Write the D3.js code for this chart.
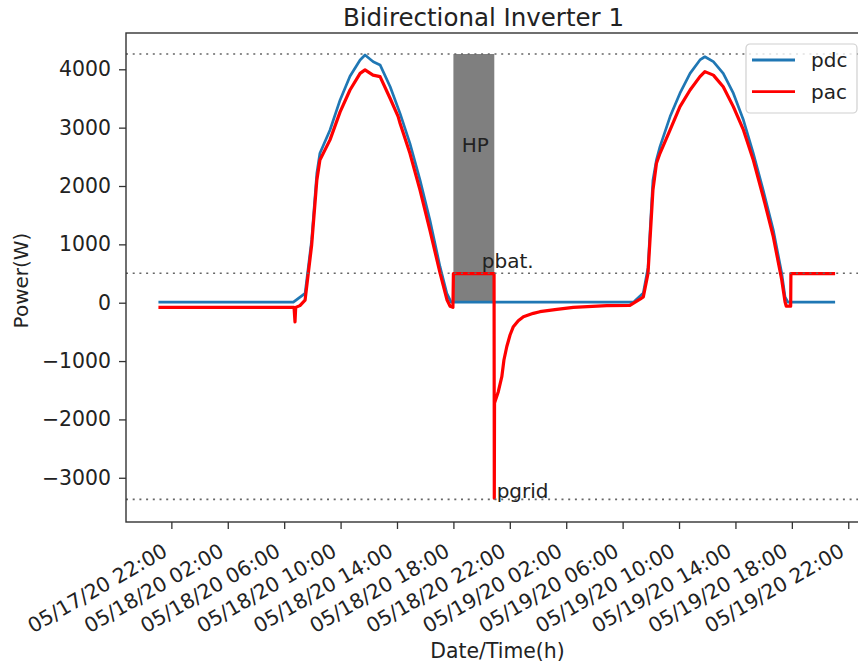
<!DOCTYPE html>
<html>
<head>
<meta charset="utf-8">
<script src="https://cdn.jsdelivr.net/npm/d3@7"></script>
<style>
  body { margin: 0; background: #fff; }
  text { font-family: "DejaVu Sans", sans-serif; fill: #222; }
</style>
</head>
<body>
<div id="chartArea"></div>
<script>
// pdc series (DC power, W)
const pdcTimes = [
  "05/17/20 21:05", "05/18/20 06:39", "05/18/20 07:29", "05/18/20 07:57", "05/18/20 08:19",
  "05/18/20 08:32", "05/18/20 09:15", "05/18/20 09:58", "05/18/20 10:40", "05/18/20 11:23",
  "05/18/20 11:44", "05/18/20 12:19", "05/18/20 12:48", "05/18/20 13:31", "05/18/20 14:13",
  "05/18/20 14:55", "05/18/20 15:38", "05/18/20 16:20", "05/18/20 17:03", "05/18/20 17:32",
  "05/18/20 17:50", "05/19/20 06:46", "05/19/20 07:28", "05/19/20 07:48", "05/19/20 08:09",
  "05/19/20 08:24", "05/19/20 08:39", "05/19/20 09:22", "05/19/20 10:04", "05/19/20 10:47",
  "05/19/20 11:29", "05/19/20 11:50", "05/19/20 12:26", "05/19/20 13:08", "05/19/20 13:51",
  "05/19/20 14:34", "05/19/20 15:16", "05/19/20 15:58", "05/19/20 16:41", "05/19/20 17:17",
  "05/19/20 17:31", "05/19/20 17:43", "05/19/20 21:04"
];
const pdcValues = [
  10, 10, 160, 1075, 2220,
  2560, 2960, 3475, 3880, 4160,
  4245, 4130, 4075, 3700, 3245,
  2730, 2100, 1417, 617, 160,
  10, 10, 165, 600, 2100,
  2450, 2675, 3190, 3590, 3930,
  4160, 4215, 4130, 3930, 3590,
  3130, 2560, 1930, 1245, 500,
  100, 10, 10
];

// pac series (AC power, W)
const pacTimes = [
  "05/17/20 21:05", "05/18/20 06:42", "05/18/20 06:46", "05/18/20 06:49", "05/18/20 07:07",
  "05/18/20 07:29", "05/18/20 07:57", "05/18/20 08:19", "05/18/20 08:32", "05/18/20 09:15",
  "05/18/20 09:58", "05/18/20 10:40", "05/18/20 11:23", "05/18/20 11:44", "05/18/20 12:18",
  "05/18/20 12:48", "05/18/20 13:31", "05/18/20 14:05", "05/18/20 14:13", "05/18/20 14:55",
  "05/18/20 15:38", "05/18/20 16:20", "05/18/20 17:03", "05/18/20 17:33", "05/18/20 17:46",
  "05/18/20 17:58", "05/18/20 18:00", "05/18/20 20:53", "05/18/20 20:54", "05/18/20 20:55",
  "05/18/20 21:11", "05/18/20 21:26", "05/18/20 21:35", "05/18/20 21:47", "05/18/20 22:01",
  "05/18/20 22:15", "05/18/20 22:36", "05/18/20 22:58", "05/18/20 23:40", "05/19/20 00:08",
  "05/19/20 01:20", "05/19/20 02:30", "05/19/20 04:52", "05/19/20 06:31", "05/19/20 07:14",
  "05/19/20 07:28", "05/19/20 07:48", "05/19/20 08:09", "05/19/20 08:24", "05/19/20 08:39",
  "05/19/20 09:22", "05/19/20 10:04", "05/19/20 10:47", "05/19/20 11:29", "05/19/20 11:50",
  "05/19/20 12:26", "05/19/20 13:08", "05/19/20 13:51", "05/19/20 14:34", "05/19/20 15:16",
  "05/19/20 15:58", "05/19/20 16:41", "05/19/20 17:17", "05/19/20 17:31", "05/19/20 17:36",
  "05/19/20 17:55", "05/19/20 17:56", "05/19/20 21:04"
];
const pacValues = [
  -80, -80, -330, -80, -50,
  45, 990, 2100, 2445, 2790,
  3270, 3645, 3930, 3990, 3900,
  3875, 3500, 3190, 3075, 2560,
  1930, 1245, 510, 45, -60,
  -80, 500, 500, -3350, -1720,
  -1525, -1268, -982, -754, -553,
  -411, -308, -240, -182, -154,
  -113, -80, -50, -45, 60,
  100, 500, 1930, 2390, 2560,
  2960, 3360, 3645, 3875, 3960,
  3900, 3700, 3360, 2960, 2445,
  1816, 1131, 390, 15, -60,
  -60, 500, 500
];

const xTickLabels = [
  "05/17/20 22:00", "05/18/20 02:00", "05/18/20 06:00", "05/18/20 10:00", "05/18/20 14:00",
  "05/18/20 18:00", "05/18/20 22:00", "05/19/20 02:00", "05/19/20 06:00", "05/19/20 10:00",
  "05/19/20 14:00", "05/19/20 18:00", "05/19/20 22:00"
];
const yTickValues = [-3000, -2000, -1000, 0, 1000, 2000, 3000, 4000];

// shaded HP period and reference levels
const hpSpan = ["05/18/20 18:00", "05/18/20 20:54"];
const hpLevels = [0, 4262];
const refLevels = [4262, 504, -3370];
const noteTexts = ["HP", "pbat.", "pgrid"];
const noteTimes = ["05/18/20 18:35", "05/18/20 20:01", "05/18/20 21:04"];
const noteValues = [2590, 590, -3352];

const xDomain = ["05/17/20 18:47", "05/19/20 23:24"];
const yDomain = [-3758, 4622];

const parseTime = d3.timeParse("%m/%d/%y %H:%M");

let margins = { top: 33, right: -10, bottom: 144, left: 126 };
let svgWidth = 858 - margins.left - margins.right,
    svgHeight = 666 - margins.top - margins.bottom;

let svg = d3.select("#chartArea")
    .append("svg")
    .attr("width", 858)
    .attr("height", 666)
    .style("display", "block");

let chart = svg.append("g")
    .attr("transform", "translate(" + margins.left + "," + margins.top + ")");

let xScale = d3.scaleTime()
    .domain(xDomain.map(parseTime))
    .range([0, svgWidth]);

let yScale = d3.scaleLinear()
    .domain(yDomain)
    .range([svgHeight, 0]);

// HP span
chart.append("rect")
    .attr("x", xScale(parseTime(hpSpan[0])))
    .attr("width", xScale(parseTime(hpSpan[1])) - xScale(parseTime(hpSpan[0])))
    .attr("y", yScale(hpLevels[1]))
    .attr("height", yScale(hpLevels[0]) - yScale(hpLevels[1]))
    .attr("fill", "#7f7f7f");

let line = d3.line()
    .x(d => xScale(d.t))
    .y(d => yScale(d.v));

let pdcData = pdcTimes.map((t, i) => ({ t: parseTime(t), v: pdcValues[i] }));
let pacData = pacTimes.map((t, i) => ({ t: parseTime(t), v: pacValues[i] }));

chart.append("path")
    .attr("d", line(pdcData))
    .attr("fill", "none")
    .attr("stroke", "#1f77b4")
    .attr("stroke-width", 2.7)
    .attr("stroke-linejoin", "round");

chart.append("path")
    .attr("d", line(pacData))
    .attr("fill", "none")
    .attr("stroke", "#ff0000")
    .attr("stroke-width", 3.2)
    .attr("stroke-linejoin", "round");

// dotted reference lines
chart.selectAll(".ref")
    .data(refLevels)
    .enter().append("line")
    .attr("class", "ref")
    .attr("x1", 0)
    .attr("x2", svgWidth)
    .attr("y1", d => yScale(d))
    .attr("y2", d => yScale(d))
    .attr("stroke", "#666")
    .attr("stroke-width", 1.6)
    .attr("stroke-dasharray", "2,4.7");

// annotations
chart.selectAll(".note")
    .data(noteTexts)
    .enter().append("text")
    .attr("class", "note")
    .attr("x", (d, i) => xScale(parseTime(noteTimes[i])))
    .attr("y", (d, i) => yScale(noteValues[i]))
    .style("font-size", "20px")
    .text(d => d);

// axes
let xAxis = chart.append("g")
    .attr("transform", "translate(0," + svgHeight + ")")
    .call(d3.axisBottom(xScale)
        .tickValues(xTickLabels.map(parseTime))
        .tickFormat(d3.timeFormat("%m/%d/%y %H:%M"))
        .tickSize(7));
xAxis.select(".domain").remove();
xAxis.selectAll(".tick line").attr("stroke", "#333").attr("stroke-width", 1.3);
xAxis.selectAll(".tick text")
    .attr("x", 0).attr("y", 0).attr("dy", 0)
    .attr("transform", "translate(-3,33) rotate(-30)")
    .style("text-anchor", "end")
    .style("font-size", "20.4px")
    .attr("fill", "#222");

let yAxis = chart.append("g")
    .call(d3.axisLeft(yScale)
        .tickValues(yTickValues)
        .tickFormat(d3.format("d"))
        .tickSize(7)
        .tickPadding(8));
yAxis.select(".domain").remove();
yAxis.selectAll(".tick line").attr("stroke", "#333").attr("stroke-width", 1.3);
yAxis.selectAll(".tick text")
    .style("font-size", "20.4px")
    .attr("fill", "#222");

// frame
chart.append("rect")
    .attr("width", svgWidth)
    .attr("height", svgHeight)
    .attr("fill", "none")
    .attr("stroke", "#333")
    .attr("stroke-width", 1.4);

// Text for the x-axis
svg.append("text")
    .attr("x", 497.5)
    .attr("y", 658)
    .style("text-anchor", "middle")
    .style("font-size", "20.4px")
    .text("Date/Time(h)");

// Text for the y-axis
svg.append("text")
    .attr("transform", "translate(28," + (margins.top + svgHeight / 2 + 3) + ") rotate(-90)")
    .style("text-anchor", "middle")
    .style("font-size", "20px")
    .text("Power(W)");

// Chart title
svg.append("text")
    .attr("x", 483.5)
    .attr("y", 26)
    .style("text-anchor", "middle")
    .style("font-size", "24.5px")
    .text("Bidirectional Inverter 1");

// legend
let legendNames = ["pdc", "pac"];
let legendColors = ["#1f77b4", "#ff0000"];
let legend = svg.append("g").attr("transform", "translate(746,44)");
legend.append("rect")
    .attr("width", 111)
    .attr("height", 69)
    .attr("rx", 4)
    .attr("fill", "#fff")
    .attr("fill-opacity", 0.8)
    .attr("stroke", "#d0d0d0")
    .attr("stroke-width", 1.2);
legendNames.forEach((name, i) => {
    legend.append("line")
        .attr("x1", 6).attr("x2", 49)
        .attr("y1", 16 + i * 31.7).attr("y2", 16 + i * 31.7)
        .attr("stroke", legendColors[i])
        .attr("stroke-width", 2.8);
    legend.append("text")
        .attr("x", 65)
        .attr("y", 23 + i * 31.7)
        .style("font-size", "20px")
        .text(name);
});
</script>
</body>
</html>
